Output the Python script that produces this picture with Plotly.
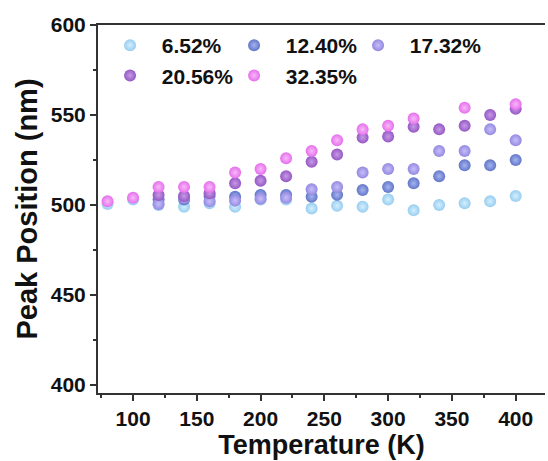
import plotly.graph_objects as go

temperature = [80, 100, 120, 140, 160, 180, 200, 220, 240, 260, 280, 300, 320, 340, 360, 380, 400]

series_names = ["6.52%", "12.40%", "17.32%", "20.56%", "32.35%"]

peak_652 = [500.5, 503, 500, 499, 501, 499, 503, 503, 498, 499.5, 499, 503, 497, 500, 501, 502, 505]
peak_1240 = [None, None, 503, 503, 505, 504.5, 505.5, 505.5, 504.6, 505.6, 508.3, 510, 512, 516, 522, 522, 525]
peak_1732 = [None, None, 500.5, 504, 502, 502.4, 503.5, 504, 508.7, 510, 518, 520, 520, 530, 530, 542, 536]
peak_2056 = [None, None, 505.5, 505, 506.5, 512, 513.5, 516, 524, 528, 537.5, 538, 543.5, 542, 544, 550, 553.5]
peak_3235 = [502, 504, 510, 510, 510, 518, 520, 526, 530, 536, 542, 544, 548, None, 554, None, 556]

edge_colors = ["#98cdf0", "#6276c9", "#9489e0", "#9558c4", "#e56fec"]
center_colors = ["#d4efff", "#a5b4ee", "#c6befa", "#c69ae6", "#f8b8f8"]

all_series = [peak_652, peak_1240, peak_1732, peak_2056, peak_3235]

font_family = "Liberation Sans, Arial, sans-serif"
pad = "\u00a0\u00a0"

fig = go.Figure()
for name, vals, ec, cc in zip(series_names, all_series, edge_colors, center_colors):
    fig.add_trace(go.Scatter(
        x=temperature, y=vals, mode="markers", name=pad + name,
        marker=dict(size=12, color=ec, line=dict(width=0),
                    gradient=dict(type="radial", color=cc)),
    ))

axis_common = dict(
    showline=True, linecolor="#333333", linewidth=2,
    ticks="outside", ticklen=6, tickwidth=2, tickcolor="#333333",
    showgrid=False, zeroline=False,
    tickfont=dict(family=font_family, size=21, color="#111111", weight="bold"),
)

fig.update_xaxes(
    range=[72.5, 423], tickvals=[100, 150, 200, 250, 300, 350, 400],
    minor=dict(ticks="outside", ticklen=3, tickwidth=1.5, tickcolor="#333333", dtick=25, tick0=75),
    mirror=True,
    title=dict(text="Temperature (K)", standoff=0,
               font=dict(family=font_family, size=27, color="#111111", weight="bold")),
    **axis_common,
)
fig.update_yaxes(
    range=[395.5, 600], tickvals=[400, 450, 500, 550, 600],
    minor=dict(ticks="outside", ticklen=3, tickwidth=1.5, tickcolor="#333333", dtick=25, tick0=400),
    title=dict(text="Peak Position (nm)", standoff=5,
               font=dict(family=font_family, size=29, color="#111111", weight="bold")),
    **axis_common,
)

fig.update_layout(
    width=548, height=461,
    margin=dict(l=98, r=3, t=25, b=68),
    plot_bgcolor="white", paper_bgcolor="white",
    legend=dict(
        orientation="h", x=0.027, y=1.0, xanchor="left", yanchor="top",
        entrywidth=79, entrywidthmode="pixels",
        font=dict(family=font_family, size=21, color="#111111", weight="bold"),
        bgcolor="rgba(0,0,0,0)", tracegroupgap=0,
    ),
)

fig.write_html("out.html")
